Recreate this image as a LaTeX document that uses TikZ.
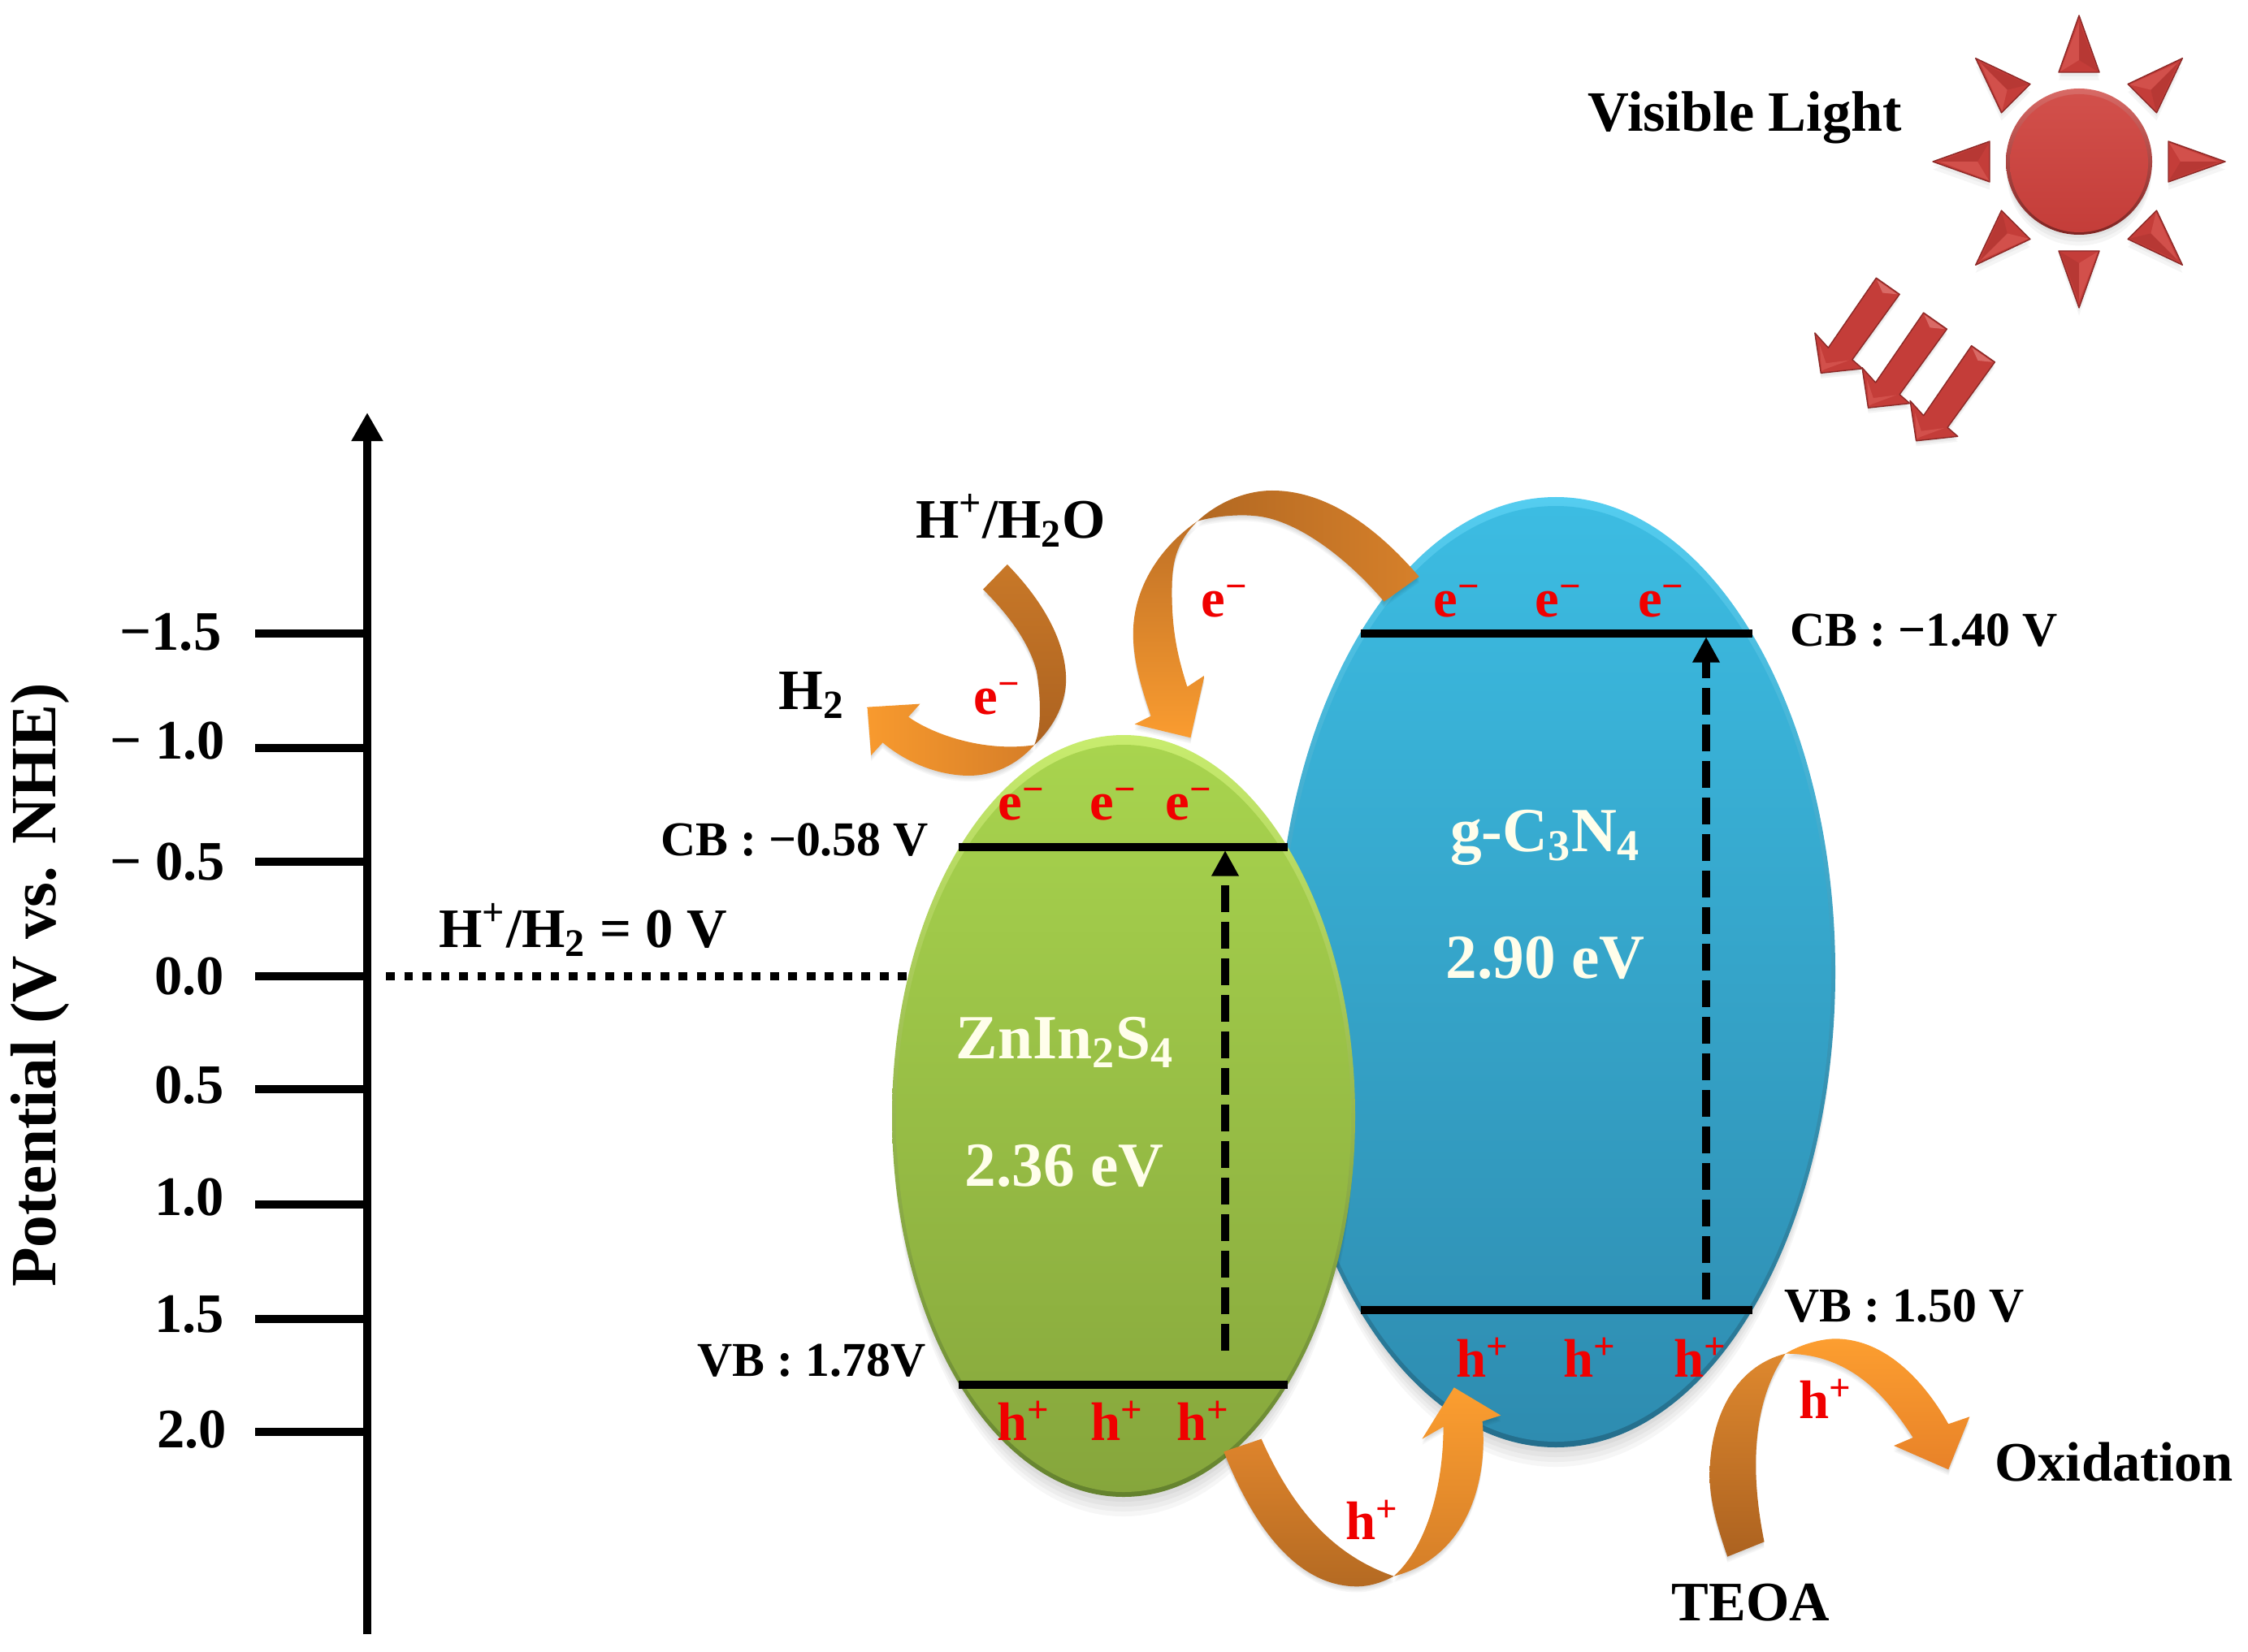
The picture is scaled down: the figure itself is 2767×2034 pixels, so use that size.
\documentclass[tikz,border=0pt]{standalone}
\usepackage{fontspec}
\setmainfont{Liberation Serif}
\usetikzlibrary{arrows.meta}
\definecolor{rayred}{HTML}{C43D39}
\definecolor{raydark}{HTML}{7E2422}
\definecolor{raylight}{HTML}{D2504B}
\definecolor{levelred}{HTML}{F00000}
\tikzset{
  lbl/.style={font=\fontsize{20}{24}\selectfont\bfseries,text=black,inner sep=0pt},
  lblsm/.style={font=\fontsize{19.5}{24}\selectfont\bfseries,text=black,inner sep=0pt},
  bandlbl/.style={font=\fontsize{17}{20}\selectfont\bfseries,text=black,inner sep=0pt},
  ticklbl/.style={font=\fontsize{19.5}{24}\selectfont\bfseries,text=black,inner sep=0pt},
  carrier/.style={font=\fontsize{19}{23}\selectfont\bfseries,text=levelred,inner sep=0pt},
  semi/.style={font=\fontsize{22}{26}\selectfont\bfseries,text=white!92!yellow,inner sep=0pt},
  level/.style={line width=2.85pt,black},
  axisline/.style={line width=2.8pt,black,-{Triangle[length=10pt,width=10.5pt]}},
  tickline/.style={line width=2.6pt,black},
  excite/.style={line width=2.85pt,black,dash pattern=on 9.4pt off 3.4pt,-{Triangle[length=9pt,width=9pt]}},
  dotline/.style={line width=2.85pt,black,dash pattern=on 3.1pt off 3.3pt},
}
\newcommand\ribshadow[1]{%
  \foreach \s in {3,6,9,12}{\fill[black,opacity=.035,yshift=-\s*.018cm] #1;}}
\newcommand\softshadow[1]{%
  \foreach \s in {3,6,9}{\fill[black,opacity=.04,yshift=-\s*.02cm] #1;}}
\newcommand\blockarrow[2]{%
  \begin{scope}[shift={(#1,#2)}]
    \softshadow{(405,935)--(255,1170)--(213,1120)--(232,1255)--(362,1240)--(330,1210)--(478,990)--cycle}
    \fill[rayred,draw=raydark!80!rayred,line width=.4pt,line join=round]
      (405,935)--(255,1170)--(213,1120)--(232,1255)--(362,1240)--(330,1210)--(478,990)--cycle;
    \fill[raylight!85!white] (407,942)--(471,990)--(425,985)--cycle;
    \fill[raylight] (228,1160)--(248,1222)--(320,1212)--(245,1242)--(234,1248)--cycle;
  \end{scope}}
\begin{document}
\begin{tikzpicture}[x=0.01cm,y=-0.01cm]
\useasboundingbox (0,0) rectangle (2767,2034);
\fill[white] (0,0) rectangle (2767,2034);

% ---------- axis
\coordinate (axb) at (452,2012);
\coordinate (axt) at (452,508);
\draw[axisline] (axb) -- (axt);
\foreach \nm/\yy in {m15/780,m10/921,m05/1061,z00/1202,p05/1341,p10/1483,p15/1624,p20/1763}{
  \coordinate (t\nm) at (314,\yy);
  \coordinate (a\nm) at (452,\yy);
  \draw[tickline] (t\nm) -- (a\nm);
}
\node[ticklbl] (l1) at (210,778) {−1.5};
\node[ticklbl] (l2) at (206,912) {− 1.0};
\node[ticklbl] (l3) at (206,1061) {− 0.5};
\node[ticklbl] (l4) at (233,1202) {0.0};
\node[ticklbl] (l5) at (233,1336) {0.5};
\node[ticklbl] (l6) at (233,1474) {1.0};
\node[ticklbl] (l7) at (233,1618) {1.5};
\node[ticklbl] (l8) at (236,1760) {2.0};
\node[lbl,font=\fontsize{22.6}{26}\selectfont\bfseries,rotate=90] (ylab) at (49,1213) {Potential (V vs. NHE)};

% ---------- reference dotted line
\coordinate (dotstart) at (475,1202);
\coordinate (dotend) at (1118,1202);
\draw[dotline] (dotstart) -- (dotend);
\node[lblsm] (hh) at (718,1145) {H\textsuperscript{+}/H\textsubscript{2} = 0 V};

% ---------- blue ellipse
\coordinate (bc) at (1915,1197);
\foreach \s in {4,8,12,16}{\fill[black,opacity=.035] ([yshift=-\s*.015cm]bc) ellipse [x radius=342,y radius=585];}
\shade[top color={rgb,255:red,84;green,205;blue,240},bottom color={rgb,255:red,36;green,110;blue,140}] (bc) ellipse [x radius=344,y radius=585];
\shade[top color={rgb,255:red,60;green,188;blue,226},bottom color={rgb,255:red,46;green,140;blue,176}] ([yshift=-.02cm]bc) ellipse [x radius=339,y radius=576];

% ---------- green ellipse
\coordinate (gc) at (1383,1374);
\foreach \s in {4,8,12,16}{\fill[black,opacity=.035] ([yshift=-\s*.015cm]gc) ellipse [x radius=283,y radius=469];}
\shade[top color={rgb,255:red,200;green,236;blue,110},bottom color={rgb,255:red,100;green,130;blue,46}] (gc) ellipse [x radius=285,y radius=469];
\shade[top color={rgb,255:red,168;green,212;blue,78},bottom color={rgb,255:red,134;green,166;blue,60}] ([yshift=-.03cm]gc) ellipse [x radius=280,y radius=460];

% ---------- levels
\coordinate (gcbL) at (1180,1043); \coordinate (gcbR) at (1585,1043);
\coordinate (gvbL) at (1180,1705); \coordinate (gvbR) at (1585,1705);
\coordinate (bcbL) at (1675,780);  \coordinate (bcbR) at (2157,780);
\coordinate (bvbL) at (1675,1613); \coordinate (bvbR) at (2157,1613);
\draw[level] (gcbL) -- (gcbR);
\draw[level] (gvbL) -- (gvbR);
\draw[level] (bcbL) -- (bcbR);
\draw[level] (bvbL) -- (bvbR);
\coordinate (gexA) at (1508,1663); \coordinate (gexB) at (1508,1047);
\coordinate (bexA) at (2100,1600); \coordinate (bexB) at (2100,784);
\draw[excite] (gexA) -- (gexB);
\draw[excite] (bexA) -- (bexB);

% ---------- ribbons, upper group
\begin{scope}[shift={(900,580)},xscale=.574,yscale=.3333]
  \def\ra{(592,345) .. controls (680,500) and (718,650) .. (718,770) .. controls (718,860) and (690,950) .. (650,1012) .. controls (665,950) and (665,850) .. (655,740) .. controls (640,640) and (600,540) .. (540,437) -- cycle}
  \def\rb{(650,1012) .. controls (610,1090) and (560,1125) .. (510,1125) .. controls (440,1125) and (370,1070) .. (325,1003) -- (300,1050) -- (292,872) -- (405,860) -- (380,908) .. controls (430,970) and (540,1040) .. (650,1012) -- cycle}
  \ribshadow{\ra}\ribshadow{\rb}
  \shade[top color={rgb,255:red,200;green,120;blue,40},bottom color={rgb,255:red,172;green,98;blue,32}] \ra;
  \shade[left color={rgb,255:red,248;green,154;blue,46},right color={rgb,255:red,214;green,126;blue,40}] \rb;
  \def\rc{(1475,390) .. controls (1400,240) and (1290,72) .. (1160,72) .. controls (1100,72) and (1040,120) .. (1000,185) .. controls (1040,165) and (1090,160) .. (1120,165) .. controls (1210,175) and (1320,320) .. (1400,482) -- cycle}
  \def\rd{(1000,185) .. controls (950,270) and (945,350) .. (945,450) .. controls (945,600) and (960,700) .. (978,797) -- (1015,755) -- (985,985) -- (865,935) -- (900,905) .. controls (875,780) and (862,690) .. (862,600) .. controls (862,430) and (920,280) .. (1000,185) -- cycle}
  \ribshadow{\rc}\ribshadow{\rd}
  \shade[left color={rgb,255:red,178;green,104;blue,34},right color={rgb,255:red,214;green,128;blue,42}] \rc;
  \shade[top color={rgb,255:red,190;green,112;blue,38},bottom color={rgb,255:red,250;green,156;blue,48}] \rd;
\end{scope}

% ---------- ribbons, lower group
\begin{scope}[shift={(1400,1550)},xscale=.8718,yscale=.3333]
  \def\re{(122,712) .. controls (150,900) and (210,1210) .. (310,1210) .. controls (330,1210) and (350,1190) .. (362,1172) .. controls (270,1090) and (215,900) .. (175,665) -- cycle}
  \def\rf{(362,1172) .. controls (410,1060) and (432,830) .. (432,620) -- (402,665) -- (447,475) -- (513,578) -- (487,600) .. controls (495,800) and (470,1100) .. (362,1172) -- cycle}
  \ribshadow{\re}\ribshadow{\rf}
  \shade[top color={rgb,255:red,222;green,132;blue,44},bottom color={rgb,255:red,180;green,106;blue,34}] \re;
  \shade[top color={rgb,255:red,252;green,158;blue,48},bottom color={rgb,255:red,212;green,126;blue,40}] \rf;
  \def\rg{(885,1045) .. controls (870,850) and (860,560) .. (915,350) .. controls (840,400) and (808,600) .. (808,800) .. controls (808,900) and (820,1000) .. (833,1100) -- cycle}
  \def\rh{(915,350) .. controls (940,310) and (970,295) .. (985,295) .. controls (1060,295) and (1115,470) .. (1145,610) -- (1175,583) -- (1145,778) -- (1068,690) -- (1095,660) .. controls (1060,520) and (1010,350) .. (915,350) -- cycle}
  \ribshadow{\rg}\ribshadow{\rh}
  \shade[top color={rgb,255:red,222;green,136;blue,46},bottom color={rgb,255:red,172;green,98;blue,32}] \rg;
  \shade[top color={rgb,255:red,252;green,158;blue,48},bottom color={rgb,255:red,232;green,130;blue,40}] \rh;
\end{scope}

% ---------- sun
\coordinate (sun) at (2559,199);
\foreach \s in {4,8,12}{\fill[black,opacity=.04] ([yshift=-\s*.012cm]sun) circle [radius=89];}
\shade[top color=raylight!85!white,bottom color=raydark] (sun) circle [radius=90];
\shade[top color=raylight,bottom color=rayred] ([yshift=-.02cm]sun) circle [radius=85];
\foreach \a in {0,45,...,315}{
  \begin{scope}[shift={(sun)},rotate=\a]
    \foreach \s in {4,8}{\fill[black,opacity=.04,rotate=-\a,yshift=-\s*.012cm,rotate=\a] (110,-25)--(180,0)--(110,25)--cycle;}
    \fill[rayred,draw=raydark!80!rayred,line width=.4pt,line join=round] (110,-25)--(180,0)--(110,25)--cycle;
    \fill[raylight] (111,-23)--(125,0)--(172,0)--cycle;
    \fill[raydark,opacity=.18] (111,23)--(125,0)--(172,0)--cycle;
  \end{scope}
}

% ---------- light arrows
\begin{scope}[shift={(2150,0)},xscale=.3935,yscale=.366]
  \blockarrow{298}{228}
  \blockarrow{148}{117}
  \blockarrow{0}{0}
\end{scope}

% ---------- texts
\node[lbl] (vl) at (2148,145) {Visible Light};
\node[lblsm] (hw) at (1244,641) {H\textsuperscript{+}/H\textsubscript{2}O};
\node[lbl] (h2) at (999,856) {H\textsubscript{2}};
\node[carrier] (e1) at (1228,860) {e\textsuperscript{−}};
\node[carrier] (e2) at (1508,740) {e\textsuperscript{−}};
\node[carrier] (e3) at (1258,990) {e\textsuperscript{−}};
\node[carrier] (e4) at (1371,990) {e\textsuperscript{−}};
\node[carrier] (e5) at (1464,990) {e\textsuperscript{−}};
\node[carrier] (e6) at (1794,740) {e\textsuperscript{−}};
\node[carrier] (e7) at (1919,740) {e\textsuperscript{−}};
\node[carrier] (e8) at (2045,740) {e\textsuperscript{−}};
\node[bandlbl] (c1) at (978,1034) {CB : −0.58 V};
\node[bandlbl] (v1) at (999,1675) {VB : 1.78V};
\node[bandlbl] (c2) at (2368,776) {CB : −1.40 V};
\node[bandlbl] (v2) at (2344,1608) {VB : 1.50 V};
\node[semi] (zn) at (1311,1283) {ZnIn\textsubscript{2}S\textsubscript{4}};
\node[semi] (zng) at (1310,1435) {2.36 eV};
\node[semi] (gc3) at (1902,1031) {g-C\textsubscript{3}N\textsubscript{4}};
\node[semi] (gcg) at (1902,1179) {2.90 eV};
\node[carrier] (h1) at (1260,1749) {h\textsuperscript{+}};
\node[carrier] (h2b) at (1375,1749) {h\textsuperscript{+}};
\node[carrier] (h3) at (1481,1749) {h\textsuperscript{+}};
\node[carrier] (h4) at (1825,1671) {h\textsuperscript{+}};
\node[carrier] (h5) at (1957,1671) {h\textsuperscript{+}};
\node[carrier] (h6) at (2093,1671) {h\textsuperscript{+}};
\node[carrier] (h7) at (1689,1871) {h\textsuperscript{+}};
\node[carrier] (h8) at (2247,1722) {h\textsuperscript{+}};
\node[lblsm] (ox) at (2602,1800) {Oxidation};
\node[lblsm] (te) at (2155,1973) {TEOA};
\end{tikzpicture}
\end{document}
